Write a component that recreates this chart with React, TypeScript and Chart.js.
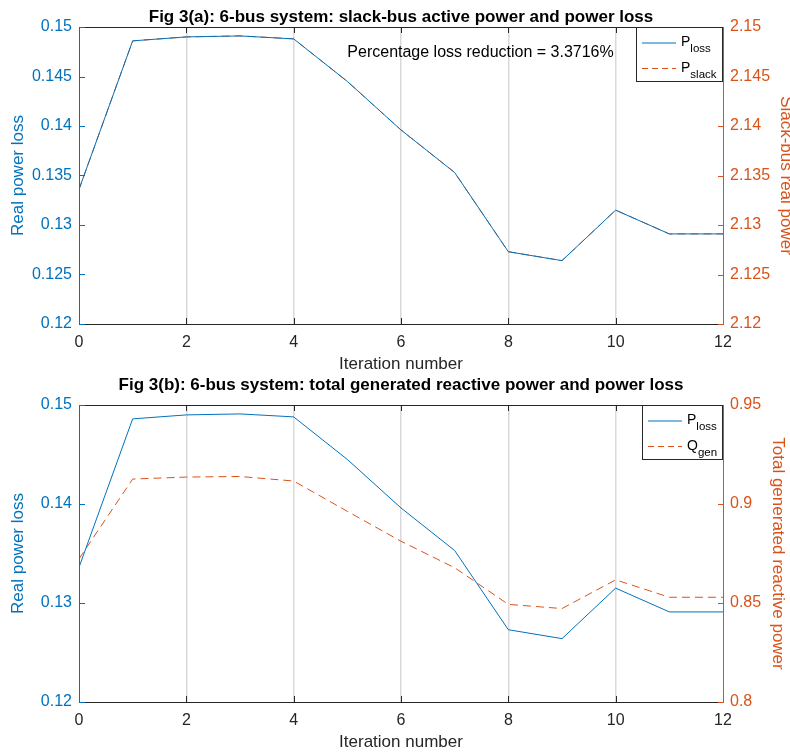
import React, { useEffect, useRef } from "react";
import { Chart, registerables } from "chart.js";

Chart.register(...registerables);

const FONT = '"Liberation Sans", Arial, Helvetica, sans-serif';
const BLUE = "#0072BD";
const ORANGE = "#D95319";
const DARK = "#262626";
const GRID = "#d9d9d9";

const iterations = [0, 1, 2, 3, 4, 5, 6, 7, 8, 9, 10, 11, 12];
const pLoss = [0.1336, 0.1486, 0.149, 0.1491, 0.1488, 0.1445, 0.1396, 0.1353, 0.1273, 0.1264, 0.1315, 0.1291, 0.1291];
const pSlack = [2.1336, 2.1486, 2.149, 2.1491, 2.1488, 2.1445, 2.1396, 2.1353, 2.1273, 2.1264, 2.1315, 2.1291, 2.1291];
const qGen = [0.8723, 0.9126, 0.9136, 0.9139, 0.9116, 0.8963, 0.8812, 0.8678, 0.8493, 0.8472, 0.8617, 0.8529, 0.8529];

const xTicks = [0, 2, 4, 6, 8, 10, 12];
const lossTicksA = [0.12, 0.125, 0.13, 0.135, 0.14, 0.145, 0.15];
const slackTicks = [2.12, 2.125, 2.13, 2.135, 2.14, 2.145, 2.15];
const lossTicksB = [0.12, 0.13, 0.14, 0.15];
const qGenTicks = [0.8, 0.85, 0.9, 0.95];

const titleA = "Fig 3(a): 6-bus system: slack-bus active power and power loss";
const titleB = "Fig 3(b): 6-bus system: total generated reactive power and power loss";
const xLabel = "Iteration number";
const yLossLabel = "Real power loss";
const ySlackLabel = "Slack-bus real power";
const yQgenLabel = "Total generated reactive power";
const noteText = "Percentage loss reduction = 3.3716%";
const notePos = { x: 5, y: 0.1474 };

const legendA = [
  { main: "P", sub: "loss", color: BLUE, dash: [] as number[] },
  { main: "P", sub: "slack", color: ORANGE, dash: [6, 4] },
];
const legendB = [
  { main: "P", sub: "loss", color: BLUE, dash: [] as number[] },
  { main: "Q", sub: "gen", color: ORANGE, dash: [6, 4] },
];

const toPts = (ys: number[]) => iterations.map((x, i) => ({ x, y: ys[i] }));

const matlabPlugin = {
  id: "matlab",
  afterDraw(chart: any, _args: any, opts: any) {
    const ctx: CanvasRenderingContext2D = chart.ctx;
    const { left, right, top, bottom } = chart.chartArea;
    const xs = chart.scales.x;
    const yl = chart.scales.y;
    const yr = chart.scales.y1;
    const line = (x1: number, y1: number, x2: number, y2: number) => {
      ctx.beginPath();
      ctx.moveTo(x1, y1);
      ctx.lineTo(x2, y2);
      ctx.stroke();
    };
    const TL = 6;
    ctx.save();
    ctx.lineWidth = 1;
    ctx.setLineDash([]);
    // x borders & ticks
    ctx.strokeStyle = DARK;
    line(left, top + 0.5, right, top + 0.5);
    line(left, bottom + 0.5, right, bottom + 0.5);
    for (const t of xs.ticks) {
      const px = Math.round(xs.getPixelForValue(t.value)) + 0.5;
      line(px, bottom, px, bottom - TL);
      line(px, top, px, top + TL);
    }
    // left axis
    ctx.strokeStyle = BLUE;
    line(left + 0.5, top, left + 0.5, bottom + 1);
    for (const t of yl.ticks) {
      const py = Math.round(yl.getPixelForValue(t.value)) + 0.5;
      line(left, py, left + TL, py);
    }
    // right axis
    ctx.strokeStyle = ORANGE;
    line(right + 0.5, top, right + 0.5, bottom + 1);
    for (const t of yr.ticks) {
      const py = Math.round(yr.getPixelForValue(t.value)) + 0.5;
      line(right + 1, py, right + 1 - TL, py);
    }
    // title
    ctx.fillStyle = "#000";
    ctx.font = `bold 17px ${FONT}`;
    ctx.textAlign = "center";
    ctx.textBaseline = "alphabetic";
    ctx.fillText(opts.title, (left + right) / 2, opts.titleBaseline);
    // note
    if (opts.note) {
      ctx.font = `16px ${FONT}`;
      ctx.textAlign = "left";
      ctx.textBaseline = "middle";
      ctx.fillStyle = "#000";
      ctx.fillText(opts.note.text, xs.getPixelForValue(opts.note.x), yl.getPixelForValue(opts.note.y));
    }
    // legend
    const items = opts.legend as any[];
    const mainFont = `14px ${FONT}`;
    const subFont = `11.5px ${FONT}`;
    let maxW = 0;
    for (const it of items) {
      ctx.font = mainFont;
      const w1 = ctx.measureText(it.main).width;
      ctx.font = subFont;
      const w2 = ctx.measureText(it.sub).width;
      maxW = Math.max(maxW, w1 + w2);
    }
    const boxW = Math.round(45 + maxW + 6);
    const boxH = 55;
    const bx = right - boxW;
    const by = top;
    ctx.fillStyle = "#fff";
    ctx.fillRect(bx, by, boxW, boxH);
    ctx.strokeStyle = DARK;
    ctx.lineWidth = 1;
    ctx.strokeRect(bx + 0.5, by + 0.5, boxW - 1, boxH - 1);
    const rows = [16, 41.5];
    items.forEach((it, i) => {
      const ry = by + rows[i];
      ctx.strokeStyle = it.color;
      ctx.lineWidth = 1;
      ctx.setLineDash(it.dash);
      line(bx + 6, ry, bx + 40, ry);
      ctx.setLineDash([]);
      ctx.fillStyle = "#000";
      ctx.textAlign = "left";
      ctx.textBaseline = "alphabetic";
      ctx.font = mainFont;
      ctx.fillText(it.main, bx + 45, ry + 3);
      const w1 = ctx.measureText(it.main).width;
      ctx.font = subFont;
      ctx.fillText(it.sub, bx + 45 + w1, ry + 9);
    });
    ctx.restore();
  },
};

function makeConfig(spec: any) {
  const tickFont = { family: FONT, size: 16 };
  const labelFont = { family: FONT, size: 17 };
  const setTicks = (arr: number[]) => (s: any) => {
    s.ticks = arr.map((v) => ({ value: v }));
  };
  return {
    type: "line",
    data: {
      datasets: [
        {
          label: "loss",
          data: toPts(pLoss),
          yAxisID: "y",
          borderColor: BLUE,
          borderWidth: 1,
          pointRadius: 0,
          fill: false,
          tension: 0,
        },
        {
          label: "second",
          data: toPts(spec.second),
          yAxisID: "y1",
          borderColor: ORANGE,
          borderWidth: 1,
          borderDash: [8, 5],
          pointRadius: 0,
          fill: false,
          tension: 0,
        },
      ],
    },
    options: {
      responsive: false,
      animation: false,
      events: [],
      layout: { padding: { top: 27, left: 0, right: 0, bottom: 0 } },
      plugins: {
        legend: { display: false },
        title: { display: false },
        tooltip: { enabled: false },
        matlab: {
          title: spec.title,
          titleBaseline: spec.titleBaseline,
          note: spec.note,
          legend: spec.legend,
        },
      },
      scales: {
        x: {
          type: "linear",
          min: 0,
          max: 12,
          afterBuildTicks: setTicks(xTicks),
          afterFit: (s: any) => {
            s.height = spec.xAxisHeight;
          },
          grid: {
            drawTicks: false,
            lineWidth: 1.5,
            color: (c: any) =>
              c.tick && (c.tick.value === 0 || c.tick.value === 12) ? "rgba(0,0,0,0)" : GRID,
          },
          border: { display: false },
          ticks: { padding: 8.5, color: DARK, font: tickFont, callback: (v: any) => String(v) },
          title: {
            display: true,
            text: xLabel,
            color: DARK,
            font: labelFont,
            padding: { top: 0, bottom: spec.xTitlePad },
          },
        },
        y: {
          type: "linear",
          position: "left",
          min: spec.leftTicks[0],
          max: spec.leftTicks[spec.leftTicks.length - 1],
          afterBuildTicks: setTicks(spec.leftTicks),
          afterFit: (s: any) => {
            s.width = 79;
          },
          grid: { display: false, drawTicks: false },
          border: { display: false },
          ticks: { padding: 7, color: BLUE, font: tickFont, callback: (v: any) => String(v) },
          title: {
            display: true,
            text: yLossLabel,
            color: BLUE,
            font: labelFont,
            padding: { top: 8, bottom: 0 },
          },
        },
        y1: {
          type: "linear",
          position: "right",
          min: spec.rightTicks[0],
          max: spec.rightTicks[spec.rightTicks.length - 1],
          afterBuildTicks: setTicks(spec.rightTicks),
          afterFit: (s: any) => {
            s.width = 67;
          },
          grid: { display: false, drawTicks: false },
          border: { display: false },
          ticks: { padding: 7, color: ORANGE, font: tickFont, callback: (v: any) => String(v) },
          title: {
            display: true,
            text: spec.rightLabel,
            color: ORANGE,
            font: labelFont,
            padding: { top: spec.rightTitlePad, bottom: 0 },
          },
        },
      },
    },
    plugins: [matlabPlugin],
  };
}

function ChartCanvas({ spec, width, height, top }: any) {
  const ref = useRef<HTMLCanvasElement | null>(null);
  useEffect(() => {
    if (!ref.current) return;
    const chart = new Chart(ref.current, makeConfig(spec) as any);
    return () => chart.destroy();
  }, []);
  return (
    <canvas
      ref={ref}
      width={width}
      height={height}
      style={{ position: "absolute", left: 0, top, width, height, display: "block" }}
    />
  );
}

const specA = {
  title: titleA,
  titleBaseline: 22,
  second: pSlack,
  leftTicks: lossTicksA,
  rightTicks: slackTicks,
  rightLabel: ySlackLabel,
  rightTitlePad: -6,
  xAxisHeight: 54,
  xTitlePad: 3.3,
  note: { text: noteText, x: notePos.x, y: notePos.y },
  legend: legendA,
};

const specB = {
  title: titleB,
  titleBaseline: 12,
  second: qGen,
  leftTicks: lossTicksB,
  rightTicks: qGenTicks,
  rightLabel: yQgenLabel,
  rightTitlePad: 2,
  xAxisHeight: 51,
  xTitlePad: 0,
  note: null,
  legend: legendB,
};

export default function App() {
  return (
    <div style={{ position: "absolute", left: 0, top: 0, width: 790, height: 753, background: "#fff" }}>
      <ChartCanvas spec={specA} width={790} height={378} top={0} />
      <ChartCanvas spec={specB} width={790} height={375} top={378} />
    </div>
  );
}
